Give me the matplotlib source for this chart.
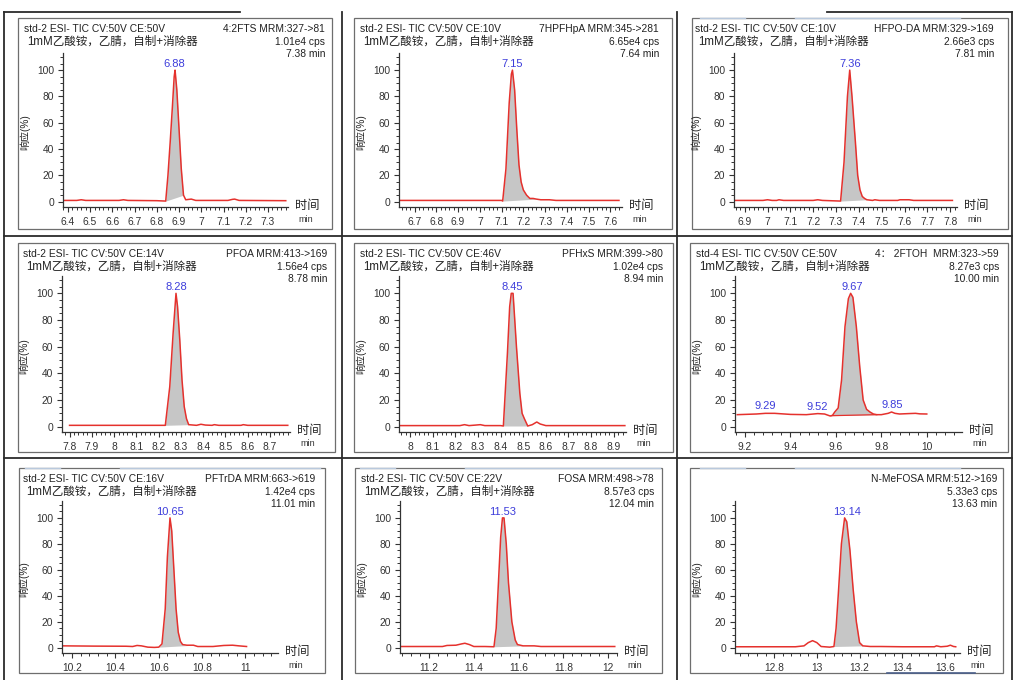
import numpy as np
import matplotlib
matplotlib.use("Agg")
import matplotlib.pyplot as plt
from matplotlib.ticker import FixedLocator, AutoMinorLocator, FuncFormatter

plt.rcParams['font.family'] = ['Liberation Sans', 'Noto Sans CJK SC', 'DejaVu Sans']

# ---- data ----
names = ["4:2FTS MRM:327->81", "7HPFHpA MRM:345->281", "HFPO-DA MRM:329->169",
         "PFOA MRM:413->169", "PFHxS MRM:399->80", "4\uff1a 2FTOH  MRM:323->59",
         "PFTrDA MRM:663->619", "FOSA MRM:498->78", "N-MeFOSA MRM:512->169"]
cps = ["1.01e4 cps", "6.65e4 cps", "2.66e3 cps", "1.56e4 cps", "1.02e4 cps",
       "8.27e3 cps", "1.42e4 cps", "8.57e3 cps", "5.33e3 cps"]
end_min = ["7.38 min", "7.64 min", "7.81 min", "8.78 min", "8.94 min",
           "10.00 min", "11.01 min", "12.04 min", "13.63 min"]
methods = ["std-2 ESI- TIC CV:50V CE:50V", "std-2 ESI- TIC CV:50V CE:10V",
           "std-2 ESI- TIC CV:50V CE:10V", "std-2 ESI- TIC CV:50V CE:14V",
           "std-2 ESI- TIC CV:50V CE:46V", "std-4 ESI- TIC CV:50V CE:50V",
           "std-2 ESI- TIC CV:50V CE:16V", "std-2 ESI- TIC CV:50V CE:22V", ""]
solvent = "1mM乙酸铵，乙腈，自制+消除器"
peak_rt = [6.88, 7.15, 7.36, 8.28, 8.45, 9.67, 10.65, 11.53, 13.14]
peak_from = [6.84, 7.105, 7.32, 8.23, 8.412, 9.58, 10.60, 11.49, 13.08]
peak_to = [6.92, 7.26, 7.435, 8.335, 8.52, 9.78, 10.76, 11.62, 13.215]
small_rt = [9.29, 9.52, 9.85]  # extra labels on 4:2FTOH trace

t_42fts = [6.385, 6.44, 6.46, 6.48, 6.50, 6.63, 6.65, 6.67, 6.80, 6.84, 6.85, 6.86, 6.87,
           6.878, 6.882, 6.89, 6.90, 6.91, 6.92, 6.93, 6.955, 6.975, 7.0, 7.12, 7.14,
           7.15, 7.17, 7.38]
r_42fts = [1, 1, 1.5, 1, 1, 1, 1.5, 1, 0.8, 0.5, 20, 45, 72, 95, 100, 85, 55, 25, 5, 1.5,
           2, 1, 1, 1, 1.8, 2, 1, 0.8]

t_7hpf = [6.63, 6.9, 7.1, 7.105, 7.12, 7.135, 7.145, 7.15, 7.16, 7.17, 7.18, 7.19, 7.20,
          7.215, 7.23, 7.245, 7.26, 7.28, 7.32, 7.35, 7.64]
r_7hpf = [1, 1, 1, 0.5, 25, 75, 97, 100, 85, 55, 28, 15, 9, 5, 2.5, 2.5, 2, 1.5, 1.5, 1, 1]

t_hfpo = [6.856, 6.98, 7.0, 7.02, 7.04, 7.05, 7.07, 7.2, 7.22, 7.24, 7.32, 7.335, 7.35,
          7.36, 7.37, 7.385, 7.395, 7.405, 7.415, 7.425, 7.435, 7.46, 7.47, 7.49,
          7.57, 7.58, 7.62, 7.64, 7.81]
r_hfpo = [1, 1, 1.5, 1, 1, 1.5, 1, 1, 1.5, 1, 0.5, 30, 80, 100, 80, 45, 20, 9, 4, 2.5,
          1.5, 1, 1.5, 1, 1, 1.5, 1.5, 1, 1]

t_pfoa = [7.8, 8.2, 8.23, 8.25, 8.265, 8.278, 8.285, 8.295, 8.305, 8.315, 8.325, 8.335,
          8.37, 8.39, 8.41, 8.44, 8.45, 8.47, 8.57, 8.58, 8.6, 8.78]
r_pfoa = [1, 1, 1, 30, 70, 100, 90, 65, 35, 15, 6, 1.5, 1, 1.8, 1.2, 1, 1.5, 1, 1, 1.5, 1, 1]

t_pfhxs = [7.953, 8.22, 8.24, 8.26, 8.29, 8.31, 8.33, 8.4, 8.412, 8.43, 8.44, 8.447, 8.455,
           8.47, 8.485, 8.495, 8.505, 8.52, 8.54, 8.56, 8.575, 8.6, 8.95]
r_pfhxs = [0.8, 0.8, 1.5, 0.8, 1.2, 1.5, 0.8, 0.8, 0.5, 55, 90, 100, 100, 60, 25, 10, 6,
           0.5, 1.5, 3.5, 2, 0.8, 0.8]

t_ftoh = [9.166, 9.25, 9.29, 9.33, 9.4, 9.47, 9.52, 9.55, 9.575, 9.585, 9.595, 9.61, 9.625,
          9.64, 9.655, 9.665, 9.675, 9.69, 9.705, 9.72, 9.735, 9.75, 9.765, 9.78, 9.8,
          9.83, 9.845, 9.86, 9.88, 9.92, 9.95, 9.97, 10.0]
r_ftoh = [9, 9.5, 10, 10, 9.2, 9, 9.8, 9.5, 8, 8.5, 11, 14, 35, 75, 96, 100, 97, 75, 45,
          20, 13, 11, 9.5, 9, 9, 10, 11, 10, 9.5, 9.8, 10, 9.6, 9.5]

t_pftrda = [10.16, 10.3, 10.45, 10.48, 10.5, 10.52, 10.55, 10.58, 10.60, 10.615, 10.63,
            10.64, 10.652, 10.66, 10.67, 10.68, 10.69, 10.70, 10.71, 10.73, 10.76, 10.78,
            10.85, 10.9, 10.94, 10.97, 11.005]
r_pftrda = [1.5, 1.3, 1.2, 1, 1.8, 1.5, 0.5, 0.3, 0.5, 3, 30, 70, 100, 90, 60, 30, 12, 5,
            2.5, 2, 2, 1, 1, 1.8, 2, 1.5, 1]

t_fosa = [11.07, 11.2, 11.26, 11.28, 11.32, 11.345, 11.36, 11.38, 11.4, 11.45, 11.49,
          11.50, 11.51, 11.52, 11.528, 11.535, 11.545, 11.555, 11.57, 11.585, 11.595,
          11.62, 11.67, 11.7, 12.03]
r_fosa = [1, 1, 1, 1.8, 2, 3, 3.5, 2.5, 1, 1, 0.8, 15, 50, 85, 100, 100, 80, 50, 20, 6,
          2.5, 1.5, 1.5, 1, 1]

t_mefosa = [12.62, 12.9, 12.94, 12.96, 12.98, 13.0, 13.02, 13.06, 13.08, 13.09, 13.1,
            13.115, 13.13, 13.14, 13.155, 13.17, 13.185, 13.2, 13.215, 13.25, 13.3, 13.4,
            13.55, 13.56, 13.58, 13.61, 13.625, 13.64, 13.65]
r_mefosa = [0.8, 0.8, 1.5, 4, 5.5, 4, 1, 0.5, 1, 15, 40, 80, 100, 97, 75, 45, 20, 4, 1.5,
            1, 1, 0.8, 0.8, 1.5, 0.8, 1.2, 2, 1, 0.8]

times = [t_42fts, t_7hpf, t_hfpo, t_pfoa, t_pfhxs, t_ftoh, t_pftrda, t_fosa, t_mefosa]
resp = [r_42fts, r_7hpf, r_hfpo, r_pfoa, r_pfhxs, r_ftoh, r_pftrda, r_fosa, r_mefosa]

xticks = [[6.4, 6.5, 6.6, 6.7, 6.8, 6.9, 7.0, 7.1, 7.2, 7.3],
          [6.7, 6.8, 6.9, 7.0, 7.1, 7.2, 7.3, 7.4, 7.5, 7.6],
          [6.9, 7.0, 7.1, 7.2, 7.3, 7.4, 7.5, 7.6, 7.7, 7.8],
          [7.8, 7.9, 8.0, 8.1, 8.2, 8.3, 8.4, 8.5, 8.6, 8.7],
          [8.0, 8.1, 8.2, 8.3, 8.4, 8.5, 8.6, 8.7, 8.8, 8.9],
          [9.2, 9.4, 9.6, 9.8, 10.0],
          [10.2, 10.4, 10.6, 10.8, 11.0],
          [11.2, 11.4, 11.6, 11.8, 12.0],
          [12.8, 13.0, 13.2, 13.4, 13.6]]
xlims = [(6.378, 7.39), (6.628, 7.654), (6.853, 7.83), (7.766, 8.79), (7.95, 8.955),
         (9.156, 10.155), (10.154, 11.15), (11.07, 12.04), (12.617, 13.67)]

# ---- layout in pixels (left, top, right, bottom) ----
W, H = 1024, 680
frames = [(18, 18, 332, 229), (354, 18, 672, 229), (692, 18, 1008, 229),
          (18, 243, 335, 452), (354, 243, 673, 452), (690, 243, 1008, 452),
          (19, 468, 325, 673), (355, 468, 662, 673), (690, 468, 1003, 673)]
boxes = [(63, 53, 288, 207), (399, 53, 622, 207), (734, 53, 957, 207),
         (62, 276, 290, 432), (399, 276, 626, 432), (735, 276, 962, 432),
         (62, 501, 278, 653), (400, 501, 617, 653), (735, 501, 960, 653)]

red = '#e5312d'
blue = '#3d3ddb'

fig = plt.figure(figsize=(W / 100, H / 100), dpi=100)
bg = fig.add_axes([0, 0, 1, 1])
bg.set_xlim(0, W)
bg.set_ylim(H, 0)
bg.axis('off')

# table borders
lk = dict(color='#2b2b2b', lw=1.3)
bg.plot([4, 240], [12, 12], **lk)
bg.plot([827, 1012], [12, 12], **lk)
for x in [4, 342, 677, 1012]:
    bg.plot([x, x], [12, H], **lk)
for y in [236, 458]:
    bg.plot([4, 1012], [y, y], **lk)
# faint scan lines at top of some frames
for (x0, x1, y) in [(700, 745, 18), (795, 960, 18), (25, 60, 468), (120, 320, 468),
                    (360, 395, 468), (465, 660, 468), (700, 745, 468), (795, 960, 468)]:
    bg.plot([x0, x1], [y, y], color='#b9c9dd', lw=1.0)
bg.plot([887, 975], [673, 673], color='#4a5f8a', lw=1.2)

fmt = FuncFormatter(lambda v, p: '%g' % round(v, 3))

for i in range(9):
    fl, ft, fr, fb = frames[i]
    bg.add_patch(plt.Rectangle((fl, ft), fr - fl, fb - ft, fill=False,
                               ec='#6e6e6e', lw=0.9))
    l, t, r, b = boxes[i]
    ax = fig.add_axes([l / W, 1 - b / H, (r - l) / W, (b - t) / H])
    ax.set_facecolor('none')
    tt = np.array(times[i])
    rr = np.array(resp[i])
    ax.plot(tt, rr, color=red, lw=1.1)
    a, z = peak_from[i], peak_to[i]
    m = (tt >= a) & (tt <= z)
    base = np.interp(tt[m], [a, z], [np.interp(a, tt, rr), np.interp(z, tt, rr)])
    ax.fill_between(tt[m], base, rr[m], color='#c6c6c6', lw=0)
    if i == 5:
        ax.plot([a, z], [np.interp(a, tt, rr), np.interp(z, tt, rr)], color=red, lw=0.9)
        for s in small_rt:
            ax.text(s, np.interp(s, tt, rr) + 1.5, '%.2f' % s, color=blue, fontsize=8,
                    ha='center', va='bottom')
    ax.text(peak_rt[i], 101, '%.2f' % peak_rt[i], color=blue, fontsize=8,
            ha='center', va='bottom')

    ax.set_xlim(*xlims[i])
    ax.set_ylim(-4, 113)
    ax.xaxis.set_major_locator(FixedLocator(xticks[i]))
    ax.xaxis.set_major_formatter(fmt)
    ax.xaxis.set_minor_locator(AutoMinorLocator(5))
    ax.yaxis.set_major_locator(FixedLocator([0, 20, 40, 60, 80, 100]))
    ax.yaxis.set_minor_locator(AutoMinorLocator(4))
    for sp in ['top', 'right']:
        ax.spines[sp].set_visible(False)
    for sp in ['left', 'bottom']:
        ax.spines[sp].set_color('#333333')
        ax.spines[sp].set_linewidth(0.9)
    ax.tick_params(which='major', length=3.5, width=0.8, labelsize=7.4, pad=3,
                   colors='#333333')
    ax.tick_params(which='minor', length=2, width=0.7, colors='#333333')
    ax.tick_params(axis='x', pad=4)

    # panel texts
    bg.text(l - 39, ft + 11, methods[i], fontsize=7.4, color='#222222', va='center')
    if methods[i]:
        bg.text(l - 36, ft + 24, solvent, fontsize=8.3, color='#222222', va='center')
    bg.text(r + 37, ft + 11, names[i], fontsize=7.4, color='#222222', va='center', ha='right')
    bg.text(r + 37, ft + 24, cps[i], fontsize=7.4, color='#222222', va='center', ha='right')
    bg.text(r + 37, ft + 36, end_min[i], fontsize=7.4, color='#222222', va='center', ha='right')
    bg.text(r + 7, b - 1, '时间', fontsize=8.8, color='#222222', va='center', ha='left')
    bg.text(r + 18, b + 12, 'min', fontsize=6.5, color='#333333', va='center', ha='center')
    bg.text(l - 38, (t + b) / 2 + 2, '响应(%)', fontsize=7.2, color='#222222',
            rotation=90, va='center', ha='center')

fig.savefig('out.png', dpi=100)
